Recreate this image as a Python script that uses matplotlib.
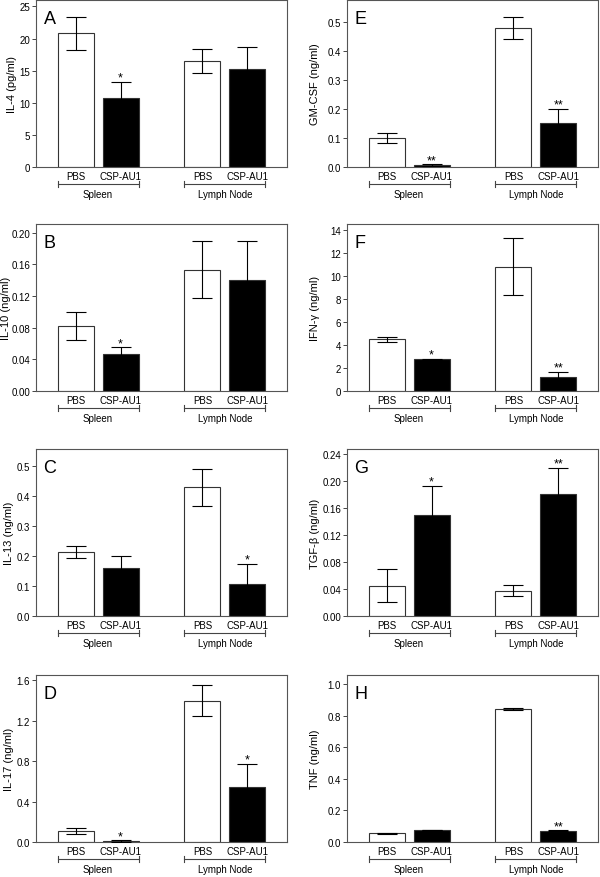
import numpy as np
import matplotlib
matplotlib.use("Agg")
import matplotlib.pyplot as plt

plt.rcParams['font.family'] = ['Liberation Sans', 'DejaVu Sans']

# groups / bars (order: spleen PBS, spleen CSP-AU1, LN PBS, LN CSP-AU1)
groups = ["Spleen", "Lymph Node"]
treatments = ["PBS", "CSP-AU1"]

il4 = [20.8, 10.8, 16.5, 15.3]
il4_err = [2.6, 2.4, 1.9, 3.4]
il10 = [0.082, 0.047, 0.153, 0.140]
il10_err = [0.018, 0.008, 0.036, 0.049]
il13 = [0.214, 0.160, 0.428, 0.106]
il13_err = [0.020, 0.040, 0.062, 0.068]
il17 = [0.105, 0.010, 1.394, 0.540]
il17_err = [0.030, 0.006, 0.154, 0.230]
gmcsf = [0.099, 0.006, 0.479, 0.153]
gmcsf_err = [0.017, 0.003, 0.037, 0.047]
ifng = [4.48, 2.76, 10.8, 1.21]
ifng_err = [0.24, 0.04, 2.45, 0.43]
tgfb = [0.045, 0.150, 0.0376, 0.181]
tgfb_err = [0.025, 0.042, 0.0085, 0.038]
tnf = [0.055, 0.077, 0.843, 0.071]
tnf_err = [0.003, 0.002, 0.005, 0.002]

panels = [
    # letter, values, errors, stars, ylabel, ylim, yticks, fmt
    ("A", il4, il4_err, ["", "*", "", ""], "IL-4 (pg/ml)", 26, [0, 5, 10, 15, 20, 25], "{:.0f}"),
    ("B", il10, il10_err, ["", "*", "", ""], "IL-10 (ng/ml)", 0.211, [0, 0.04, 0.08, 0.12, 0.16, 0.20], "{:.2f}"),
    ("C", il13, il13_err, ["", "", "", "*"], "IL-13 (ng/ml)", 0.556, [0, 0.1, 0.2, 0.3, 0.4, 0.5], "{:.1f}"),
    ("D", il17, il17_err, ["", "*", "", "*"], "IL-17 (ng/ml)", 1.65, [0, 0.4, 0.8, 1.2, 1.6], "{:.1f}"),
    ("E", gmcsf, gmcsf_err, ["", "**", "", "**"], "GM-CSF (ng/ml)", 0.575, [0, 0.1, 0.2, 0.3, 0.4, 0.5], "{:.1f}"),
    ("F", ifng, ifng_err, ["", "*", "", "**"], "IFN-\u03b3 (ng/ml)", 14.5, [0, 2, 4, 6, 8, 10, 12, 14], "{:.0f}"),
    ("G", tgfb, tgfb_err, ["", "*", "", "**"], "TGF-\u03b2 (ng/ml)", 0.247, [0, 0.04, 0.08, 0.12, 0.16, 0.20, 0.24], "{:.2f}"),
    ("H", tnf, tnf_err, ["", "", "", "**"], "TNF (ng/ml)", 1.057, [0, 0.2, 0.4, 0.6, 0.8, 1.0], "{:.1f}"),
]
# y-label centres (pixels from the figure's left edge)
label_px = [12, 6.5, 9, 9, 315, 315, 315, 315]

xpos = np.array([0, 1, 2.82, 3.82])
colors = ["white", "black", "white", "black"]
width = 0.8

fig = plt.figure(figsize=(6, 8.78), dpi=100)

col_left = [36, 347]
ax_w = 251
row_tops = [1, 225, 450, 676]
row_h = 167

for i, (letter, vals, errs, stars, ylab, ytop, yt, fmt) in enumerate(panels):
    col = i // 4
    row = i % 4
    bottom = 1 - (row_tops[row] + row_h) / 878
    ax = fig.add_axes([col_left[col] / 600, bottom, ax_w / 600, row_h / 878])

    ax.bar(xpos, vals, width, color=colors, edgecolor="#333333", linewidth=0.8, zorder=2)
    ax.errorbar(xpos, vals, yerr=errs, fmt="none", ecolor="black", elinewidth=0.8,
                capsize=7, capthick=0.8, zorder=3)
    for x, v, e, s in zip(xpos, vals, errs, stars):
        if s:
            ax.annotate(s, (x, v + e), xytext=(0, 1), textcoords="offset points",
                        ha="center", va="baseline", fontsize=9)

    ax.set_xlim(-0.88, 4.7)
    ax.set_ylim(0, ytop)
    ax.set_yticks(yt)
    ax.set_yticklabels([fmt.format(t) for t in yt])
    ax.set_xticks([])
    ax.tick_params(axis="y", direction="out", length=3, width=0.7, color="#444444",
                   labelsize=7, pad=1.2)
    for sp in ax.spines.values():
        sp.set_color("#555555")
        sp.set_linewidth(0.8)
    ax.set_ylabel(ylab, fontsize=8, va="center")
    ax.yaxis.set_label_coords((label_px[i] - col_left[col]) / ax_w, 0.5)

    ax.text(0.03, 0.94, letter, transform=ax.transAxes, ha="left", va="top", fontsize=13)

    # treatment labels and group brackets under the axis
    trans = ax.get_xaxis_transform()
    for x, t in zip(xpos, treatments * 2):
        ax.text(x, -0.055, t, transform=trans, ha="center", va="center", fontsize=7,
                clip_on=False)
    for g_i, g in enumerate(groups):
        x0 = xpos[2 * g_i] - width / 2
        x1 = xpos[2 * g_i + 1] + width / 2
        ax.plot([x0, x1], [-0.102, -0.102], transform=trans, color="#444444", lw=0.8,
                clip_on=False)
        for xe in (x0, x1):
            ax.plot([xe, xe], [-0.122, -0.082], transform=trans, color="#444444", lw=0.8,
                    clip_on=False)
        ax.text((x0 + x1) / 2, -0.162, g, transform=trans, ha="center", va="center",
                fontsize=7, clip_on=False)

fig.savefig("out.png", dpi=100)
